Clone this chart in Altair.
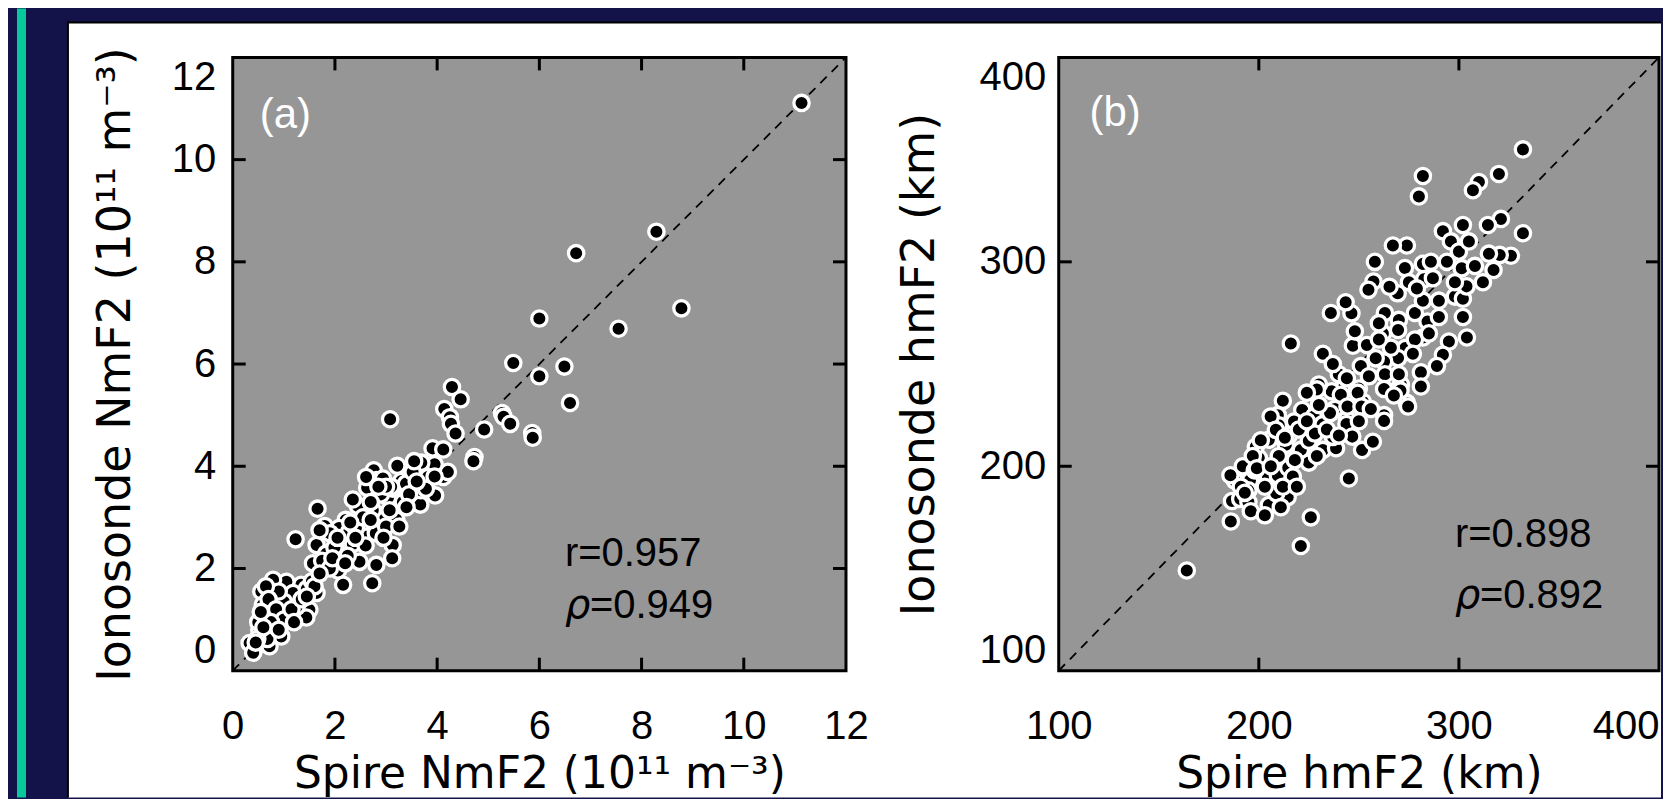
import altair as alt
import pandas as pd

# ---------------- data ----------------
a_spire = [11.13, 8.29, 6.72, 8.78, 7.55, 6.0, 5.49, 6.49, 6.0, 6.6, 4.29, 4.46, 4.14, 4.25, 4.27, 4.36,
           4.92, 5.27, 5.3, 5.43, 5.86, 5.87, 3.91, 4.12, 4.73, 4.71, 3.95, 3.69, 4.12,
           3.08, 4.21, 3.96, 3.67, 3.30, 3.22, 3.49, 3.04, 3.33, 3.68, 2.76, 2.63, 2.45, 2.96, 3.2, 2.78,
           2.51, 2.21, 2.08, 1.66, 1.80, 1.64, 1.23, 2.09, 2.35, 2.61, 2.8, 3.13, 3.12, 2.81, 2.48, 2.06,
           2.16, 2.73, 1.66, 1.57, 1.64, 1.34, 1.41, 1.21, 1.05, 0.79, 0.72, 0.56, 0.59, 0.78, 0.96, 1.12,
           1.31, 1.50, 0.79, 0.95, 0.59, 0.66, 0.43, 0.33, 0.72, 0.52, 1.05, 1.44, 0.88, 1.18, 1.83, 1.90,
           1.70, 1.99, 2.28, 2.41, 3.0, 3.26, 3.07, 2.74, 2.81, 3.13, 3.39, 3.52, 3.82, 2.94, 2.61, 3.78,
           0.5, 0.62, 0.85, 1.0, 1.1, 1.25, 0.68, 0.48, 0.9, 1.45, 1.55, 1.75, 1.9, 2.25, 2.6, 2.55, 2.35,
           2.9, 2.7, 3.1, 3.45, 2.95, 2.4, 3.6, 3.95, 0.4,
           0.65, 0.7, 0.85, 1.0, 1.15, 1.35, 0.75, 0.6, 0.45, 0.9, 1.2, 1.6, 1.7, 1.95, 2.2, 2.3, 2.05,
           2.7, 3.0, 3.4, 3.55, 2.85, 1.45, 0.55]
a_iono = [11.11, 8.59, 8.17, 7.09, 6.69, 6.89, 6.02, 5.95, 5.76, 5.24, 5.55, 5.31, 5.12, 4.96, 4.83, 4.64,
          4.72, 5.04, 4.97, 4.83, 4.65, 4.56, 4.35, 4.33, 4.18, 4.10, 4.04, 4.07, 3.79,
          4.92, 3.89, 3.43, 3.25, 3.71, 4.01, 3.80, 3.39, 3.30, 3.53, 3.92, 3.58, 3.22, 3.04, 2.96, 2.80,
          2.87, 2.95, 2.79, 3.17, 2.83, 2.46, 2.57, 2.31, 2.48, 2.62, 2.69, 2.46, 2.20, 2.07, 2.13, 1.96,
          1.68, 1.71, 2.02, 2.10, 1.52, 1.68, 1.35, 1.32, 1.74, 1.78, 1.53, 1.55, 1.29, 1.13, 1.19, 1.39,
          1.13, 1.19, 0.81, 0.67, 0.73, 0.99, 0.44, 0.54, 0.48, 0.80, 0.97, 1.04, 1.39, 1.52, 2.29, 2.69,
          2.75, 2.41, 2.72, 2.79, 2.82, 2.82, 3.14, 3.14, 3.73, 3.56, 3.66, 3.89, 3.79, 3.76, 3.79, 3.56,
          0.95, 1.1, 0.9, 1.35, 1.1, 1.25, 0.62, 0.62, 1.55, 1.6, 1.75, 2.15, 2.0, 2.25, 2.45, 3.0, 3.35,
          3.45, 3.3, 3.6, 3.45, 2.6, 2.6, 3.7, 3.8, 0.35,
          1.65, 1.4, 1.2, 1.0, 1.2, 1.4, 0.95, 0.85, 0.55, 0.8, 0.95, 1.65, 1.9, 2.2, 2.1, 2.9, 2.6,
          2.95, 3.6, 3.2, 4.1, 3.6, 1.45, 1.15]

b_spire = [332, 282, 280, 310, 307, 320, 332, 302, 321, 314.5, 326, 320.4, 315, 317.3, 312, 292, 296, 294,
           301.4, 298, 302, 303.8, 302, 304, 295, 292, 289, 281, 282, 284.3, 278, 282, 282.7, 282, 274,
           267, 273, 275, 269.4, 265.3, 258, 257.3, 254.8, 263, 270, 262, 269.6, 273.2, 269.6, 262.6, 263,
           271, 274, 262.6, 267.5, 251, 247, 254, 258.4, 250, 245, 252, 241.6, 236.4, 230, 232, 216, 236,
           246.3, 243.4, 212, 221.7, 209.5, 232.4, 238, 244,
           164, 186, 226, 221, 245, 186.6, 190.7, 194.8, 205, 214.4, 208.7, 188, 185.8, 195.6, 192, 194.8,
           200, 204.6, 209.5, 214.7, 205, 210, 217.6, 213.5, 221, 225, 227.5, 231.9, 235.6, 232, 238.6,
           237, 225, 229, 241, 244.3, 243.8, 246.7, 251.6, 257, 262.6, 249.4, 251.3, 262.6, 270.8, 274.6,
           267.5, 281, 198.5, 201, 205.9, 208.5,
           198, 203, 210, 215, 220, 228, 197, 217, 230, 255, 266, 278, 287, 290, 300, 308, 260, 248, 240,
           224, 213, 191,
           193, 199, 206, 212, 218, 224, 234, 196, 203, 211, 219, 229, 240, 250, 256, 270, 277, 285, 290,
           298, 305, 286, 279, 260, 244, 237]
b_iono = [355, 342, 332, 339, 335, 343, 314, 318, 321, 318, 303, 303.4, 304, 296, 290, 315, 310, 300,
          296.9, 283, 282, 288, 273, 263, 261, 254.5, 249, 246, 263, 270.8, 275, 281, 291.6, 299, 308,
          308, 297, 290, 284.6, 287.8, 300, 290.4, 286.3, 275, 271.6, 265, 266.7, 257.8, 252.9, 251.3, 245,
          240, 231, 225, 236.6, 249, 259, 259.3, 252.8, 238, 231, 231.5, 237.5, 236.7, 240, 255, 260, 275,
          274.8, 280.2, 232, 227.5, 225, 225.7, 228, 223,
          149, 173, 175, 161, 194, 183, 184, 182.5, 181, 184.9, 186.8, 193, 195.6, 193.1, 200, 188.2,
          204, 194.6, 195.5, 199.3, 213, 220, 221.9, 210.5, 208, 212.5, 224.3, 220.6, 226, 208, 208.8,
          214.4, 201.8, 237.6, 235, 229.2, 220.7, 214.5, 208, 212, 222.2, 236, 229.2, 237.8, 237, 229.2,
          234.6, 239, 209.5, 212.7, 224.3, 217.8,
          198, 190, 205, 215, 218, 216, 205, 195, 230, 244, 258, 262, 292, 281, 305, 298, 270, 266, 245,
          236, 214, 190,
          187, 199, 200, 190, 203, 222, 218, 178, 176, 180, 190, 205, 215, 222, 228, 245, 255, 265, 273,
          290, 310, 300, 287, 262, 243, 250]

a_domain = [0, 12]
b_domain = [100, 400]
a_axis_values = [0, 2, 4, 6, 8, 10, 12]
b_axis_values = [100, 200, 300, 400]
a_minor = [2, 4, 6, 8, 10]
b_minor = [200, 300]
a_stats = ["r=0.957", "=0.949"]
b_stats = ["r=0.898", "=0.892"]

# ---------------- style ----------------
NAVY = "#13134a"
TEAL = "#08c99b"
GRAY = "#969696"
H = 614
TICK = 13
LABEL_FONT = "Liberation Sans"
TITLE_FONT = "DejaVu Sans"
RIGHT = 1430      # right end of the white sheet, relative to panel (a)
BOTTOM = H + 127  # bottom of the picture, relative to panel (a)

one = pd.DataFrame({"k": [0]})


def rect(color, x0, x1, y0, y1):
    return alt.Chart(one).mark_rect(color=color).encode(
        x=alt.value(x0), x2=alt.value(x1), y=alt.value(y0), y2=alt.value(y1))


def hline(x0, x1, y, w):
    return alt.Chart(one).mark_rule(color="black", strokeWidth=w).encode(
        x=alt.value(x0), x2=alt.value(x1), y=alt.value(y))


def vline(x, y0, y1, w):
    return alt.Chart(one).mark_rule(color="black", strokeWidth=w).encode(
        x=alt.value(x), y=alt.value(y0), y2=alt.value(y1))


def panel(xs, ys, dom, axis_vals, minor, xtitle, ytitle, tag, tag_xy, stats, r_xy, rho_y,
          ylabpad, ytitpad, W, deco, last_right=False):
    xs_ = alt.Scale(domain=dom, nice=False, zero=False)
    ys_ = alt.Scale(domain=dom, nice=False, zero=False)
    if last_right:
        xalign = {"condition": {"test": f"datum.value >= {dom[1]}", "value": "right"}, "value": "center"}
    else:
        xalign = "center"
    xaxis = alt.Axis(
        values=axis_vals, title=xtitle, labelFont=LABEL_FONT, labelFontSize=40,
        labelColor="black", titleFont=TITLE_FONT, titleFontSize=44, titleFontWeight="normal",
        titleColor="black", ticks=False, domain=False, grid=False, labelFlush=False,
        labelAlign=xalign, labelPadding=36, titlePadding=6, zindex=1)
    yaxis = alt.Axis(
        values=axis_vals, title=ytitle, labelFont=LABEL_FONT, labelFontSize=40,
        labelColor="black", titleFont=TITLE_FONT, titleFontSize=46, titleFontWeight="normal",
        titleColor="black", ticks=False, domain=False, grid=False, labelFlush=True,
        labelPadding=ylabpad, titlePadding=ytitpad, zindex=1)
    X = alt.X("x:Q", scale=xs_, axis=xaxis)
    Y = alt.Y("y:Q", scale=ys_, axis=yaxis)

    layers = []
    if deco:
        layers.append(rect(NAVY, -225, 0, -49, BOTTOM))
        layers.append(rect(TEAL, -216, -207, -49, BOTTOM))
        layers.append(rect("white", -165, RIGHT, -35, BOTTOM))
        layers.append(vline(-165, -36, BOTTOM, 2))
        layers.append(hline(-166, RIGHT, -35, 2))
    layers.append(alt.Chart(one).mark_rect(fill=GRAY, stroke="black", strokeWidth=3).encode(
        x=alt.value(0), x2=alt.value(W), y=alt.value(0), y2=alt.value(H)))

    layers.append(alt.Chart(pd.DataFrame({"x": dom, "y": dom})).mark_line(
        color="black", strokeWidth=1.8, strokeDash=[9, 7]).encode(x=X, y=Y))

    layers.append(alt.Chart(pd.DataFrame({"x": xs, "y": ys})).mark_circle(
        size=235, color="black", stroke="white", strokeWidth=3.3, opacity=1).encode(x=X, y=Y))

    tk = pd.DataFrame({"x": minor, "y": minor})
    rule = dict(color="black", strokeWidth=3)
    layers.append(alt.Chart(tk).mark_rule(**rule).encode(x=X, y=alt.value(H), y2=alt.value(H - TICK)))
    layers.append(alt.Chart(tk).mark_rule(**rule).encode(x=X, y=alt.value(0), y2=alt.value(TICK)))
    layers.append(alt.Chart(tk).mark_rule(**rule).encode(y=Y, x=alt.value(0), x2=alt.value(TICK)))
    layers.append(alt.Chart(tk).mark_rule(**rule).encode(y=Y, x=alt.value(W), x2=alt.value(W - TICK)))

    ann = pd.DataFrame({"x": [tag_xy[0]], "y": [tag_xy[1]], "t": [tag]})
    layers.append(alt.Chart(ann).mark_text(
        font=LABEL_FONT, fontSize=42, color="white", align="left", baseline="middle").encode(
        x=X, y=Y, text="t:N"))
    rdf = pd.DataFrame({"x": [r_xy[0]], "y": [r_xy[1]], "t": [stats[0]]})
    layers.append(alt.Chart(rdf).mark_text(
        font=LABEL_FONT, fontSize=40, color="black", align="left", baseline="middle").encode(
        x=X, y=Y, text="t:N"))
    rho = pd.DataFrame({"x": [r_xy[0]], "y": [rho_y], "t": ["ρ"]})
    layers.append(alt.Chart(rho).mark_text(
        font="DejaVu Sans", fontSize=40, fontStyle="italic", color="black", align="left",
        baseline="middle").encode(x=X, y=Y, text="t:N"))
    rv = pd.DataFrame({"x": [r_xy[0]], "y": [rho_y], "t": [stats[1]]})
    layers.append(alt.Chart(rv).mark_text(
        font=LABEL_FONT, fontSize=40, color="black", align="left", baseline="middle", dx=25).encode(
        x=X, y=Y, text="t:N"))

    return alt.layer(*layers).properties(width=W, height=H)


pa = panel(a_spire, a_iono, a_domain, a_axis_values, a_minor,
           "Spire NmF2 (10¹¹ m⁻³)", "Ionosonde NmF2 (10¹¹ m⁻³)",
           "(a)", (0.53, 10.88), a_stats, (6.5, 2.28), 1.27, 17, 32, 614, True)
pb = panel(b_spire, b_iono, b_domain, b_axis_values, b_minor,
           "Spire hmF2 (km)", "Ionosonde hmF2 (km)",
           "(b)", (115.4, 372.7), b_stats, (298, 166.5), 136.5, 13, 36, 601, False, last_right=True)

chart = alt.hconcat(pa, pb, spacing=213, bounds="flush").properties(padding=0).configure(
    background=NAVY).configure_view(strokeWidth=0)

chart.save("out.html", embed_options={"renderer": "svg", "actions": False})
